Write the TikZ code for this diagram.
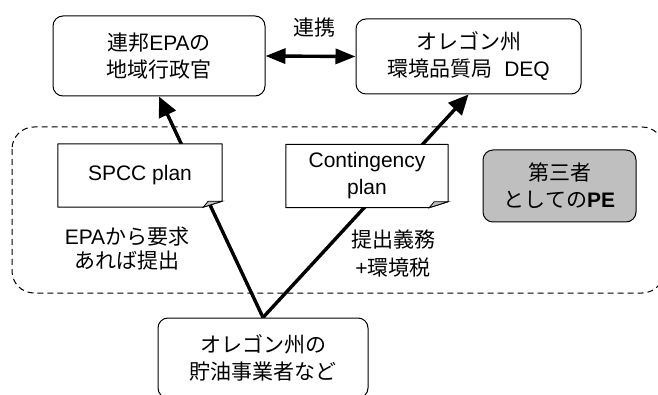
\documentclass[tikz,border=0pt]{standalone}
\usepackage{fontspec}
\setmainfont{Liberation Sans}
\newfontfamily\cjk{Noto Sans CJK JP}
\newcommand\JPt[1]{{\cjk #1}}
\usetikzlibrary{arrows.meta,calc}
\pgfdeclarelayer{bglayer}
\pgfdeclarelayer{midlayer}
\pgfsetlayers{bglayer,midlayer,main}
\begin{document}
\begin{tikzpicture}[x=1pt,y=-1pt,
  font=\fontsize{21}{27}\selectfont,
  box/.style={draw=black,line width=1pt,rounded corners=10pt,fill=white,inner sep=0pt,align=center},
  notebox/.style={inner sep=0pt,align=center},
  notefold/.style={draw=black,line width=1pt,fill=white,line join=round},
  foldfill/.style={draw=black,line width=0.8pt,fill=black!25},
  lbl/.style={inner sep=0pt,align=center},
  heavy/.style={line width=3.4pt,-{Triangle[length=20pt,width=18pt]}},
  heavyboth/.style={line width=3.4pt,{Triangle[length=20pt,width=15pt]}-{Triangle[length=20pt,width=15pt]}},
  groupbox/.style={draw=black,line width=1pt,dash pattern=on 6pt off 4pt,rounded corners=22pt}
]
\useasboundingbox (0,0) rectangle (658,395);

\node[box,minimum width=212pt,minimum height=80pt] (epa) at (159,56)
  {\JPt{連邦}EPA\JPt{の}\\\JPt{地域行政官}};
\node[box,minimum width=225pt,minimum height=75pt] (deq) at (468.5,56.5)
  {\JPt{オレゴン州}\\\JPt{環境品質局}\hspace{12pt}DEQ};
\node[lbl] (renkei) at (314,28) {\JPt{連携}};

\node[notebox,minimum width=164pt,minimum height=63pt] (spcc) at (140,175.5) {SPCC plan};
\node[notebox,minimum width=162pt,minimum height=63pt] (cont) at (367,176) {Contingency\\plan};

\node[box,fill=black!25,minimum width=153pt,minimum height=72pt] (pe) at (559.5,186)
  {\JPt{第三者}\\\JPt{としての}\textbf{PE}};

\node[box,minimum width=210pt,minimum height=80pt] (own) at (263,358)
  {\JPt{オレゴン州の}\\\JPt{貯油事業者など}};

\node[lbl,font=\fontsize{21}{24}\selectfont] (epalbl) at (127,249)
  {EPA\JPt{から要求}\\\JPt{あれば提出}};
\node[lbl,font=\fontsize{21}{28}\selectfont] (duty) at (393,254)
  {\JPt{提出義務}\\+\JPt{環境税}};

\begin{pgfonlayer}{bglayer}
  \draw[groupbox] (12,127) rectangle (664,293);
  \draw[heavy] (own.north) -- (epa.south);
  \draw[heavy] (own.north) -- (deq.south);
  \draw[heavyboth] (epa.east) -- (deq.west);
\end{pgfonlayer}

\begin{pgfonlayer}{midlayer}
  \draw[notefold] (spcc.north west) -- (spcc.north east)
    -- ($(spcc.south east)+(0,-6)$) -- ($(spcc.south east)+(-19,0)$)
    -- (spcc.south west) -- cycle;
  \draw[foldfill] ($(spcc.south east)+(-19,0)$) -- ($(spcc.south east)+(-14,-6)$)
    -- ($(spcc.south east)+(0,-6)$) -- cycle;
  \draw[notefold] (cont.north west) -- (cont.north east)
    -- ($(cont.south east)+(0,-6)$) -- ($(cont.south east)+(-19,0)$)
    -- (cont.south west) -- cycle;
  \draw[foldfill] ($(cont.south east)+(-19,0)$) -- ($(cont.south east)+(-14,-6)$)
    -- ($(cont.south east)+(0,-6)$) -- cycle;
\end{pgfonlayer}
\end{tikzpicture}
\end{document}
